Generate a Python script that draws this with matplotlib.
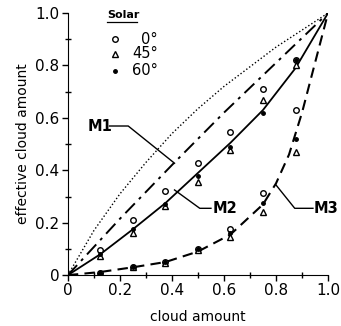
import numpy as np
import matplotlib
matplotlib.use("Agg")
import matplotlib.pyplot as plt

# ── data ──────────────────────────────────────────────────────────────────────
cloud = [0.125, 0.25, 0.375, 0.5, 0.625, 0.75, 0.875]

# upper group (model M2 region)
m2_0deg  = [0.095, 0.21, 0.32, 0.427, 0.548, 0.71, 0.82]
m2_45deg = [0.073, 0.16, 0.264, 0.357, 0.478, 0.67, 0.80]
m2_60deg = [0.08, 0.175, 0.27, 0.38, 0.49, 0.62, 0.82]

# lower group (model M3 region)
m3_0deg  = [0.01, 0.032, 0.05, 0.10, 0.175, 0.315, 0.63]
m3_45deg = [0.01, 0.032, 0.045, 0.095, 0.144, 0.24, 0.47]
m3_60deg = [0.01, 0.03, 0.05, 0.10, 0.16, 0.275, 0.52]

# model curves
dot_x = [0, 0.1, 0.2, 0.3, 0.4, 0.5, 0.6, 0.7, 0.8, 0.9, 1.0]
dot_y = [0, 0.17, 0.31, 0.43, 0.54, 0.635, 0.72, 0.795, 0.87, 0.935, 1.0]

m1_x = [0, 0.2, 0.4, 0.6, 0.8, 1.0]
m1_y = [0, 0.215, 0.42, 0.62, 0.81, 1.0]

m2_x = [0, 0.125, 0.25, 0.375, 0.5, 0.625, 0.75, 0.875, 1.0]
m2_y = [0, 0.08, 0.175, 0.275, 0.39, 0.505, 0.63, 0.79, 1.0]

m3_x = [0, 0.125, 0.25, 0.375, 0.5, 0.625, 0.75, 0.8, 0.85, 0.9, 0.95, 1.0]
m3_y = [0, 0.012, 0.03, 0.05, 0.09, 0.155, 0.27, 0.35, 0.46, 0.62, 0.81, 1.0]

ticks = [0, 0.2, 0.4, 0.6, 0.8, 1.0]
tick_labels = ["0", "0.2", "0.4", "0.6", "0.8", "1.0"]

# ── plot ──────────────────────────────────────────────────────────────────────
plt.rcParams["font.family"] = "DejaVu Sans"
fig = plt.figure(figsize=(3.41, 3.26), dpi=100)
ax = fig.add_axes([0.199, 0.156, 0.763, 0.804])

ax.plot(dot_x, dot_y, color="black", linestyle=(0, (1, 1.6)), linewidth=1.0)
ax.plot(m1_x, m1_y, color="black", linestyle=(0, (7, 3, 1.5, 3)), linewidth=1.4)
ax.plot(m2_x, m2_y, color="black", linestyle="-", linewidth=1.3)
ax.plot(m3_x, m3_y, color="black", linestyle=(0, (5, 3)), linewidth=1.5)

for y0, y45, y60 in [(m2_0deg, m2_45deg, m2_60deg), (m3_0deg, m3_45deg, m3_60deg)]:
    ax.plot(cloud, y0, "o", mfc="white", mec="black", ms=4, mew=1.0)
    ax.plot(cloud, y45, "^", mfc="white", mec="black", ms=4.5, mew=1.0)
    ax.plot(cloud, y60, "o", color="black", ms=2.5)

# leader lines to model labels
leaders = {
    "M1": ([0.16, 0.232, 0.41], [0.569, 0.569, 0.427], (0.075, 0.569)),
    "M2": ([0.55, 0.507, 0.41], [0.255, 0.255, 0.325], (0.555, 0.255)),
    "M3": ([0.942, 0.872, 0.80], [0.255, 0.255, 0.344], (0.946, 0.255)),
}
for name, (lx, ly, tpos) in leaders.items():
    ax.plot(lx, ly, color="black", linewidth=1.0)
    ax.text(tpos[0], tpos[1], name, fontsize=10.5, fontweight="bold",
            ha="left", va="center", clip_on=False)

# legend
ax.text(0.15, 0.993, "Solar", fontsize=8, fontweight="bold", ha="left", va="center")
ax.plot([0.15, 0.265], [0.965, 0.965], color="black", linewidth=0.9)
ax.plot([0.18], [0.90], "o", mfc="white", mec="black", ms=4, mew=1.0)
ax.plot([0.18], [0.845], "^", mfc="white", mec="black", ms=4.5, mew=1.0)
ax.plot([0.18], [0.78], "o", color="black", ms=2.5)
for yy, lab in [(0.90, "0°"), (0.845, "45°"), (0.78, "60°")]:
    ax.text(0.345, yy, lab, fontsize=10.5, ha="right", va="center")

ax.set_xlim(0, 1.0)
ax.set_ylim(0, 1.0)
ax.set_xticks(ticks)
ax.set_xticklabels(tick_labels)
ax.set_yticks(ticks)
ax.set_yticklabels(tick_labels)
ax.set_xticks(np.arange(0, 1.01, 0.1), minor=True)
ax.set_yticks(np.arange(0, 1.01, 0.1), minor=True)
ax.tick_params(which="major", direction="out", length=4, width=1, labelsize=11, pad=2)
ax.tick_params(which="minor", direction="inout", length=4, width=1)
ax.spines["top"].set_visible(False)
ax.spines["right"].set_visible(False)
ax.set_xlabel("cloud amount", fontsize=10, labelpad=8)
ax.set_ylabel("effective cloud amount", fontsize=10, labelpad=4)

plt.savefig("out.png", dpi=100)
